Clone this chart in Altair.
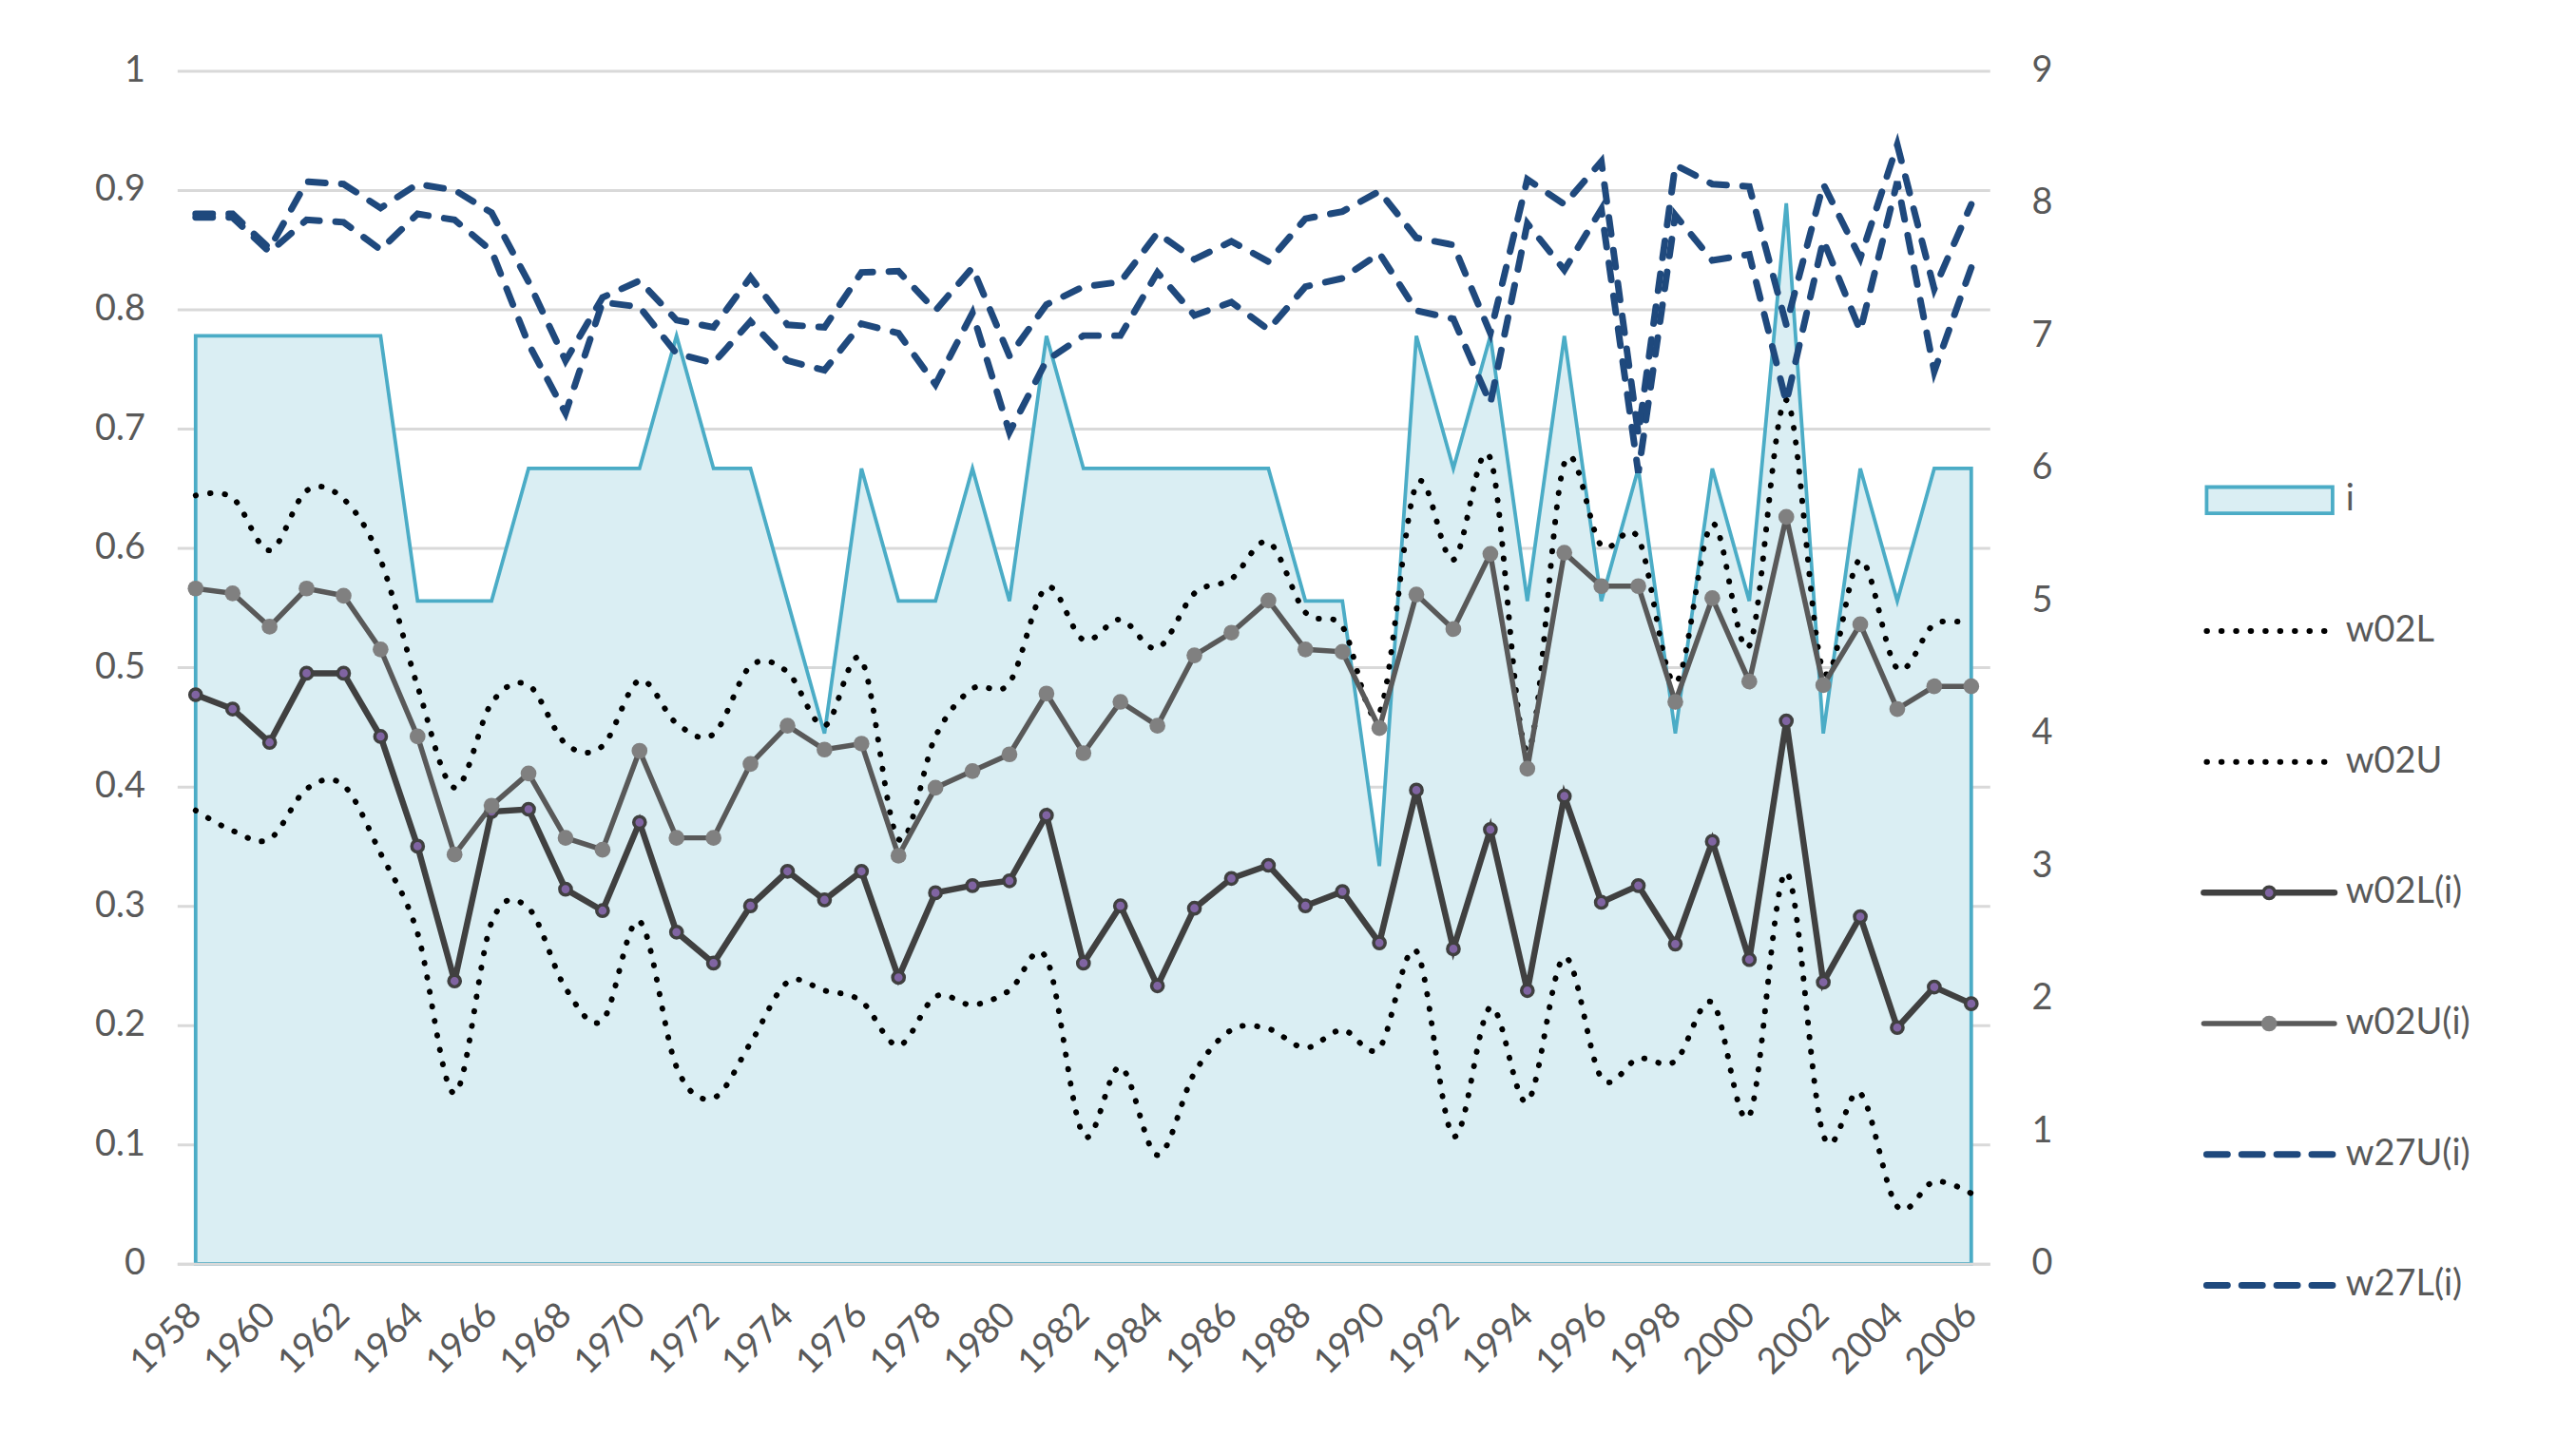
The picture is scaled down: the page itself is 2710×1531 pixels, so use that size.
import altair as alt
import pandas as pd

years = list(range(1958, 2007))

i_vals = [7, 7, 7, 7, 7, 7, 5, 5, 5, 6, 6, 6, 6, 7, 6, 6, 5, 4, 6, 5, 5, 6, 5, 7, 6,
          6, 6, 6, 6, 6, 5, 5, 3, 7, 6, 7, 5, 7, 5, 6, 4, 6, 5, 8, 4, 6, 5, 6, 6]

w02L = [0.380, 0.363, 0.356, 0.398, 0.401, 0.344, 0.277, 0.143, 0.286, 0.298, 0.231, 0.204,
        0.287, 0.165, 0.139, 0.185, 0.236, 0.229, 0.220, 0.183, 0.224, 0.217, 0.229, 0.256,
        0.108, 0.165, 0.091, 0.160, 0.196, 0.197, 0.181, 0.196, 0.181, 0.262, 0.107, 0.215,
        0.136, 0.257, 0.156, 0.172, 0.170, 0.219, 0.124, 0.328, 0.108, 0.143, 0.048, 0.069,
        0.059]

w02U = [0.644, 0.642, 0.598, 0.648, 0.641, 0.590, 0.484, 0.399, 0.470, 0.485, 0.436, 0.434,
        0.489, 0.453, 0.444, 0.501, 0.496, 0.451, 0.506, 0.356, 0.442, 0.482, 0.487, 0.567,
        0.523, 0.540, 0.516, 0.562, 0.574, 0.605, 0.546, 0.534, 0.462, 0.653, 0.590, 0.675,
        0.430, 0.671, 0.602, 0.608, 0.487, 0.620, 0.518, 0.724, 0.497, 0.590, 0.499, 0.536,
        0.536]

w02L_i = [0.477, 0.465, 0.437, 0.495, 0.495, 0.442, 0.350, 0.237, 0.379, 0.381, 0.314, 0.296,
          0.370, 0.278, 0.252, 0.300, 0.329, 0.305, 0.329, 0.240, 0.311, 0.317, 0.321, 0.376,
          0.252, 0.300, 0.233, 0.298, 0.323, 0.334, 0.300, 0.312, 0.269, 0.397, 0.264, 0.364,
          0.229, 0.392, 0.303, 0.317, 0.268, 0.354, 0.255, 0.455, 0.236, 0.291, 0.198, 0.232,
          0.218]

w02U_i = [0.566, 0.562, 0.534, 0.566, 0.560, 0.515, 0.442, 0.343, 0.384, 0.411, 0.357, 0.347,
          0.430, 0.357, 0.357, 0.419, 0.451, 0.431, 0.436, 0.342, 0.399, 0.413, 0.427, 0.478,
          0.428, 0.471, 0.451, 0.510, 0.529, 0.556, 0.515, 0.513, 0.449, 0.561, 0.532, 0.595,
          0.415, 0.596, 0.568, 0.568, 0.471, 0.558, 0.488, 0.626, 0.485, 0.536, 0.465, 0.484,
          0.484]

w27U_i = [0.880, 0.880, 0.851, 0.907, 0.905, 0.885, 0.905, 0.900, 0.881, 0.823, 0.757, 0.810,
          0.824, 0.791, 0.785, 0.827, 0.787, 0.785, 0.831, 0.832, 0.799, 0.835, 0.761, 0.804,
          0.819, 0.823, 0.864, 0.842, 0.857, 0.840, 0.876, 0.882, 0.899, 0.860, 0.854, 0.780,
          0.909, 0.888, 0.924, 0.695, 0.921, 0.905, 0.903, 0.787, 0.905, 0.843, 0.938, 0.817,
          0.888]

w27L_i = [0.877, 0.877, 0.848, 0.875, 0.873, 0.850, 0.880, 0.875, 0.849, 0.771, 0.713, 0.806,
          0.802, 0.763, 0.755, 0.790, 0.757, 0.749, 0.788, 0.780, 0.737, 0.797, 0.697, 0.757,
          0.778, 0.778, 0.831, 0.795, 0.806, 0.783, 0.819, 0.826, 0.847, 0.799, 0.792, 0.721,
          0.872, 0.833, 0.884, 0.663, 0.879, 0.841, 0.846, 0.722, 0.858, 0.782, 0.907, 0.748,
          0.835]

series_names = ["i", "w02L", "w02U", "w02L(i)", "w02U(i)", "w27U(i)", "w27L(i)"]
left_ticks = [0, 0.1, 0.2, 0.3, 0.4, 0.5, 0.6, 0.7, 0.8, 0.9, 1]
right_ticks = [0, 1, 2, 3, 4, 5, 6, 7, 8, 9]
year_ticks = list(range(1958, 2007, 2))

FONT = "Lato"
TXT = "#595959"
FS = 38

df = pd.DataFrame({
    "year": years, "i": i_vals, "w02L": w02L, "w02U": w02U,
    "w02L_i": w02L_i, "w02U_i": w02U_i, "w27U_i": w27U_i, "w27L_i": w27L_i,
})

base = alt.Chart(df)

x_enc = alt.X(
    "year:Q",
    scale=alt.Scale(domain=[1957.5, 2006.5], nice=False, zero=False),
    axis=alt.Axis(values=year_ticks, format="d", labelAngle=-45, labelAlign="right",
                  labelBaseline="middle", labelPadding=48, ticks=False, grid=False,
                  domainColor="#D9D9D9", domainWidth=3, zindex=1, title=None,
                  labelOverlap=False, labelFlush=False, labelFontSize=FS,
                  labelColor=TXT, labelFont=FONT),
)

left_axis = alt.Axis(orient="left", values=left_ticks, format=".1~f", grid=True,
                     gridColor="#D9D9D9", gridWidth=3, ticks=False, domain=False,
                     labelPadding=34, labelFontSize=FS, labelColor=TXT, labelFont=FONT,
                     title=None)
yscale = alt.Scale(domain=[0, 1], nice=False, zero=True)


def yl(field):
    return alt.Y(f"{field}:Q", scale=yscale, axis=left_axis)


area = base.mark_area(fill="#DAEEF3", stroke="#4BACC6", strokeWidth=3.8,
                      strokeJoin="miter", fillOpacity=1).encode(
    x=x_enc,
    y=alt.Y("i:Q", scale=alt.Scale(domain=[0, 9], nice=False),
            axis=alt.Axis(orient="right", values=right_ticks, grid=False, ticks=False,
                          domain=False, labelPadding=44, labelFontSize=FS,
                          labelColor=TXT, labelFont=FONT, title=None)),
)

dot_style = dict(color="black", strokeWidth=6, strokeDash=[0.5, 15], strokeCap="round",
                 interpolate="cardinal")
dash_style = dict(color="#1F497D", strokeWidth=7, strokeDash=[18, 17], strokeCap="round")

l_w02L = base.mark_line(**dot_style).encode(x="year:Q", y=yl("w02L"))
l_w02U = base.mark_line(**dot_style).encode(x="year:Q", y=yl("w02U"))
l_w02Li = base.mark_line(color="#404040", strokeWidth=6.5).encode(x="year:Q", y=yl("w02L_i"))
p_w02Li = base.mark_point(filled=True, color="#8064A2", stroke="#404040", strokeWidth=3.5,
                          size=150, opacity=1).encode(x="year:Q", y=yl("w02L_i"))
l_w02Ui = base.mark_line(color="#595959", strokeWidth=5.5).encode(x="year:Q", y=yl("w02U_i"))
p_w02Ui = base.mark_point(filled=True, color="#808080", size=280, opacity=1).encode(
    x="year:Q", y=yl("w02U_i"))
l_w27U = base.mark_line(**dash_style).encode(x="year:Q", y=yl("w27U_i"))
l_w27L = base.mark_line(**dash_style).encode(x="year:Q", y=yl("w27L_i"))

lines = alt.layer(l_w02L, l_w02U, l_w02Li, p_w02Li, l_w02Ui, p_w02Ui, l_w27U, l_w27L)

main = alt.layer(area, lines).resolve_scale(y="independent").properties(
    width=1914, height=1260)

# ---- legend panel ----
leg_df = pd.DataFrame({"name": series_names, "idx": list(range(len(series_names)))})
leg_df["y0"] = leg_df["idx"] - 0.1
leg_df["y1"] = leg_df["idx"] + 0.1
LH = 1289
lscale = alt.Scale(domain=[-3.2815, (LH - 453.5) / 138.2], reverse=True, nice=False,
                   zero=False)
ly = alt.Y("idx:Q", scale=lscale, axis=None)
lb = alt.Chart(leg_df)

leg_rect = lb.transform_filter(alt.datum.name == "i").mark_rect(
    fill="#DAEEF3", stroke="#4BACC6", strokeWidth=3.8).encode(
    x=alt.value(3), x2=alt.value(136),
    y=alt.Y("y0:Q", scale=lscale, axis=None), y2="y1:Q")
leg_dot = lb.transform_filter(alt.FieldOneOfPredicate(field="name", oneOf=["w02L", "w02U"])) \
    .mark_rule(color="black", strokeWidth=6, strokeDash=[0.5, 15], strokeCap="round") \
    .encode(x=alt.value(3), x2=alt.value(138), y=ly)
leg_li = lb.transform_filter(alt.datum.name == "w02L(i)").mark_rule(
    color="#404040", strokeWidth=6.5, strokeCap="round").encode(
    x=alt.value(0), x2=alt.value(138), y=ly)
leg_lip = lb.transform_filter(alt.datum.name == "w02L(i)").mark_point(
    filled=True, color="#8064A2", stroke="#404040", strokeWidth=3.5, size=150,
    opacity=1).encode(x=alt.value(69), y=ly)
leg_ui = lb.transform_filter(alt.datum.name == "w02U(i)").mark_rule(
    color="#595959", strokeWidth=5.5, strokeCap="round").encode(
    x=alt.value(0), x2=alt.value(138), y=ly)
leg_uip = lb.transform_filter(alt.datum.name == "w02U(i)").mark_point(
    filled=True, color="#808080", size=280, opacity=1).encode(x=alt.value(69), y=ly)
leg_dash = lb.transform_filter(
    alt.FieldOneOfPredicate(field="name", oneOf=["w27U(i)", "w27L(i)"])).mark_rule(
    color="#1F497D", strokeWidth=7, strokeDash=[22, 15], strokeCap="round").encode(
    x=alt.value(3), x2=alt.value(138), y=ly)
leg_text = lb.mark_text(align="left", baseline="middle", font=FONT, fontSize=FS,
                        color=TXT).encode(x=alt.value(150), y=ly, text="name:N")

legend = alt.layer(leg_rect, leg_dot, leg_li, leg_lip, leg_ui, leg_uip, leg_dash,
                   leg_text).properties(width=380, height=LH)

chart = alt.hconcat(main, legend, spacing=155).properties(
    padding={"left": 91, "top": 45, "right": 5, "bottom": 5},
    background="white",
).configure_view(stroke="transparent", strokeWidth=0)

chart.save("out.html", embed_options={"renderer": "svg", "actions": False})
